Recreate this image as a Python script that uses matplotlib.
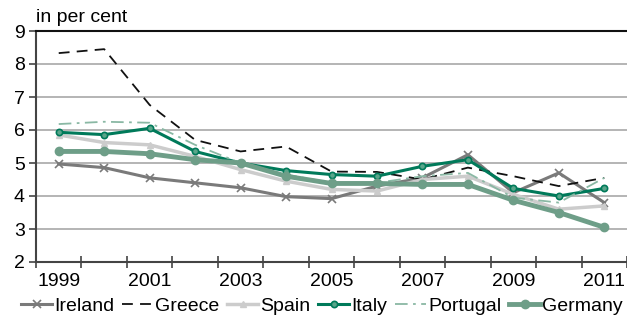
import matplotlib
matplotlib.use("Agg")
import matplotlib.pyplot as plt
import numpy as np

plt.rcParams['font.family'] = ['Liberation Sans', 'DejaVu Sans']

years = list(range(1999, 2012))
ireland = [4.97, 4.86, 4.55, 4.40, 4.25, 3.98, 3.92, 4.30, 4.55, 5.25, 4.10, 4.70, 3.80]
greece = [8.33, 8.45, 6.76, 5.70, 5.35, 5.50, 4.74, 4.73, 4.50, 4.86, 4.60, 4.30, 4.55]
spain = [5.85, 5.62, 5.55, 5.20, 4.80, 4.45, 4.20, 4.15, 4.50, 4.60, 4.05, 3.60, 3.70]
italy = [5.93, 5.86, 6.05, 5.35, 5.00, 4.77, 4.65, 4.60, 4.90, 5.10, 4.23, 4.00, 4.23]
portugal = [6.18, 6.25, 6.22, 5.55, 5.00, 4.65, 4.40, 4.40, 4.60, 4.70, 3.95, 3.80, 4.55]
germany = [5.35, 5.35, 5.28, 5.10, 5.00, 4.60, 4.38, 4.38, 4.35, 4.35, 3.87, 3.50, 3.05]
tick_years = [1999, 2001, 2003, 2005, 2007, 2009, 2011]

fig = plt.figure(figsize=(6.27, 3.17), dpi=100)
ax = fig.add_axes([36/627, (317-262)/317, 591/627, (262-31)/317])

ax.plot(years, ireland, color='#7a7a7a', lw=2.2, marker='x', ms=6, mew=1.2, label='Ireland')
ax.plot(years, greece, color='#111111', lw=1.3, dashes=(6, 4), label='Greece')
ax.plot(years, spain, color='#cccccc', lw=2.5, marker='^', ms=4, label='Spain')
ax.plot(years, italy, color='#007a5a', lw=2.2, marker='o', ms=4.5, mfc='#5aa58a', mew=1.2, label='Italy')
ax.plot(years, portugal, color='#8ab8a4', lw=1.3, dashes=(7, 3, 1.5, 3), label='Portugal')
ax.plot(years, germany, color='#6e9e88', lw=3.5, marker='o', ms=6, label='Germany')

ax.set_xlim(1998.5, 2011.5)
ax.set_ylim(2, 9)
ax.set_yticks(range(2, 10))
ax.set_xticks(tick_years)
ax.set_xticks(np.arange(1998.5, 2012, 1), minor=True)
ax.tick_params(axis='x', which='major', length=0, labelsize=14, pad=8)
ax.tick_params(axis='x', which='minor', length=8, direction='inout', width=1.2, color='#444444')
ax.tick_params(axis='y', length=5, direction='out', width=1.2, color='#444444', labelsize=14, pad=3)
ax.grid(axis='y', color='#a8a8a8', lw=1.2)
ax.set_axisbelow(True)

ax.spines['right'].set_visible(False)
ax.spines['top'].set_color('#111111')
ax.spines['top'].set_linewidth(1.5)
ax.spines['left'].set_color('#444444')
ax.spines['left'].set_linewidth(1.5)
ax.spines['bottom'].set_color('#444444')
ax.spines['bottom'].set_linewidth(1.5)

fig.text(36/627, 1 - 18/317, 'in per cent', fontsize=14, ha='left', va='center')

fig.legend(loc='center', bbox_to_anchor=(322/627, 1 - 306/317), ncol=6, frameon=False,
           fontsize=14, handlelength=1.6, handletextpad=0.1, columnspacing=0.4,
           borderaxespad=0, borderpad=0)

fig.savefig('out.png', dpi=100)
